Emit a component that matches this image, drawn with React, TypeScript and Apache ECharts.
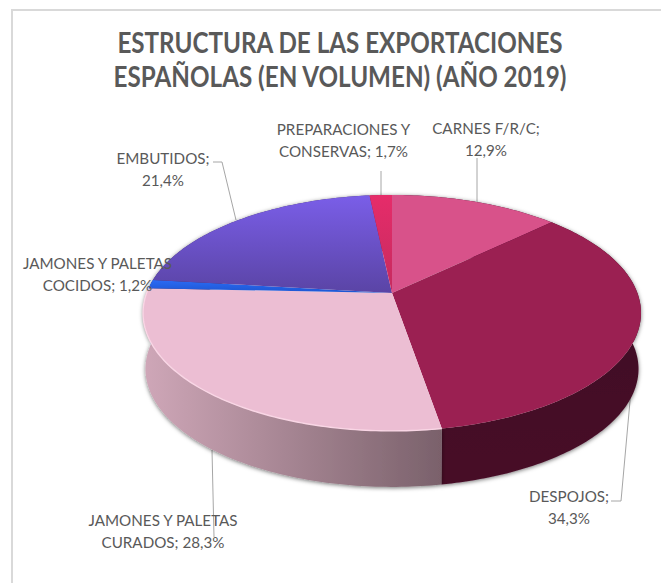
import React, { useEffect, useRef } from "react";
import * as echarts from "echarts";

const titleText = "ESTRUCTURA DE LAS EXPORTACIONES\nESPAÑOLAS (EN VOLUMEN) (AÑO 2019)";
const categories = [
  "CARNES F/R/C",
  "DESPOJOS",
  "JAMONES Y PALETAS\nCURADOS",
  "JAMONES Y PALETAS\nCOCIDOS",
  "EMBUTIDOS",
  "PREPARACIONES Y\nCONSERVAS",
];
const shares = [12.9, 34.3, 28.3, 1.2, 21.4, 1.7];

const V = (a: string, b: string) =>
  new echarts.graphic.LinearGradient(0, 0, 0, 1, [
    { offset: 0, color: a },
    { offset: 1, color: b },
  ]);
const H = (a: string, b: string) =>
  new echarts.graphic.LinearGradient(0, 0, 1, 0, [
    { offset: 0, color: a },
    { offset: 1, color: b },
  ]);
const topFills: any[] = [
  "#D8528A",
  "#9B2052",
  "#ECBED3",
  V("#2B6BF5", "#1D55D0"),
  V("#7A5EE8", "#5A44A5"),
  V("#E62C6A", "#C52B5E"),
];
const wallFills: any[] = [
  "#4A1030",
  V("#3E0E22", "#470C28"),
  H("#CFA7B8", "#7A616B"),
  "#16409C",
  "#41316F",
  "#8A1E42",
];

// label anchors (text centre, line break, leader polyline)
const labelLayout: { x: number; y: number; sameLine: boolean; leader: number[][] }[] = [
  { x: 486, y: 139, sameLine: false, leader: [[477, 158], [477, 202]] },
  { x: 569, y: 507, sameLine: false, leader: [[611, 501], [621, 501], [631, 390]] },
  { x: 163, y: 531, sameLine: true, leader: [[212, 450], [214, 537]] },
  { x: 97.5, y: 274, sameLine: true, leader: [] },
  { x: 163, y: 169, sameLine: false, leader: [[213, 162], [222, 162], [236, 220]] },
  { x: 343.5, y: 140, sameLine: true, leader: [[381, 171], [381, 195]] },
];

// perspective projection of the pie disc
const APEX = [392, 293];
const RX = 245.4;
const RY = 114.6;
const K = 0.169;
const DEPTH = 56;
const BOTTOM_SCALE = 0.99;

function rim(t: number, depth = 0, scale = 1): number[] {
  const X = Math.sin(t);
  const Y = Math.cos(t);
  const w = 1 + K * Y;
  return [APEX[0] + (scale * RX * X) / w, APEX[1] + depth - (RY * Y) / w];
}

function arc(a0: number, a1: number, depth = 0, scale = 1): number[][] {
  const n = Math.max(2, Math.ceil(Math.abs(a1 - a0) / (Math.PI / 180)));
  const pts: number[][] = [];
  for (let i = 0; i <= n; i++) pts.push(rim(a0 + ((a1 - a0) * i) / n, depth, scale));
  return pts;
}

const total = shares.reduce((a, b) => a + b, 0);
const FONT = "Lato, Carlito, sans-serif";

function renderItem(params: any, api: any) {
  const i = params.dataIndex;
  const before = shares.slice(0, i).reduce((a, b) => a + b, 0);
  const a0 = (before / total) * Math.PI * 2;
  const a1 = ((before + api.value(0)) / total) * Math.PI * 2;
  const top = arc(a0, a1);
  const bottom = arc(a0, a1, DEPTH, BOTTOM_SCALE).reverse();
  const lay = labelLayout[i];
  const pct = api.value(0).toFixed(1).replace(".", ",") + "%";
  const label = categories[i] + ";" + (lay.sameLine ? " " : "\n") + pct;

  const children: any[] = [
    {
      type: "polygon",
      z2: 2,
      shape: { points: [...top, ...bottom] },
      style: {
        fill: wallFills[i],
        shadowBlur: 4,
        shadowColor: "rgba(0,0,0,0.55)",
        shadowOffsetY: 1,
      },
    },
    {
      type: "polygon",
      z2: 4,
      shape: { points: [APEX, ...top] },
      style: { fill: topFills[i] },
    },
    {
      type: "text",
      z2: 10,
      x: lay.x,
      y: lay.y,
      scaleX: 0.95,
      style: {
        text: label,
        fill: "#595959",
        font: `16px ${FONT}`,
        lineHeight: 22,
        align: "center",
        verticalAlign: "middle",
      },
    },
  ];
  if (lay.leader.length) {
    children.push({
      type: "polyline",
      z2: 1,
      shape: { points: lay.leader },
      style: { stroke: "#A6A6A6", lineWidth: 1, fill: "none" },
    });
  }
  if (i === 2) {
    children.push({
      type: "polyline",
      z2: 5,
      shape: { points: arc(a0, a1) },
      style: { stroke: "#F9D6E5", lineWidth: 1.4, fill: "none" },
    });
  }
  return { type: "group", children };
}

export default function App() {
  const ref = useRef<HTMLDivElement>(null);
  useEffect(() => {
    const chart = echarts.init(ref.current!, undefined, { renderer: "svg" });
    chart.setOption({
      animation: false,
      backgroundColor: "#FFFFFF",
      graphic: [
        {
          type: "line",
          shape: { x1: 12, y1: 10, x2: 661, y2: 10 },
          style: { stroke: "#D9D9D9", lineWidth: 2 },
        },
        {
          type: "line",
          shape: { x1: 12, y1: 9, x2: 12, y2: 583 },
          style: { stroke: "#D9D9D9", lineWidth: 2 },
        },
        {
          type: "text",
          x: 340,
          y: 59,
          scaleX: 0.865,
          style: {
            text: titleText,
            fill: "#595959",
            font: `bold 28px ${FONT}`,
            lineHeight: 34,
            align: "center",
            verticalAlign: "middle",
          },
        },
      ],
      series: [
        {
          type: "custom",
          coordinateSystem: "none",
          renderItem,
          data: shares.map((v, i) => ({ name: categories[i], value: [v] })),
        },
      ],
    });
    return () => chart.dispose();
  }, []);
  return (
    <div
      ref={ref}
      style={{ position: "absolute", left: 0, top: 0, width: 661, height: 583 }}
    />
  );
}
